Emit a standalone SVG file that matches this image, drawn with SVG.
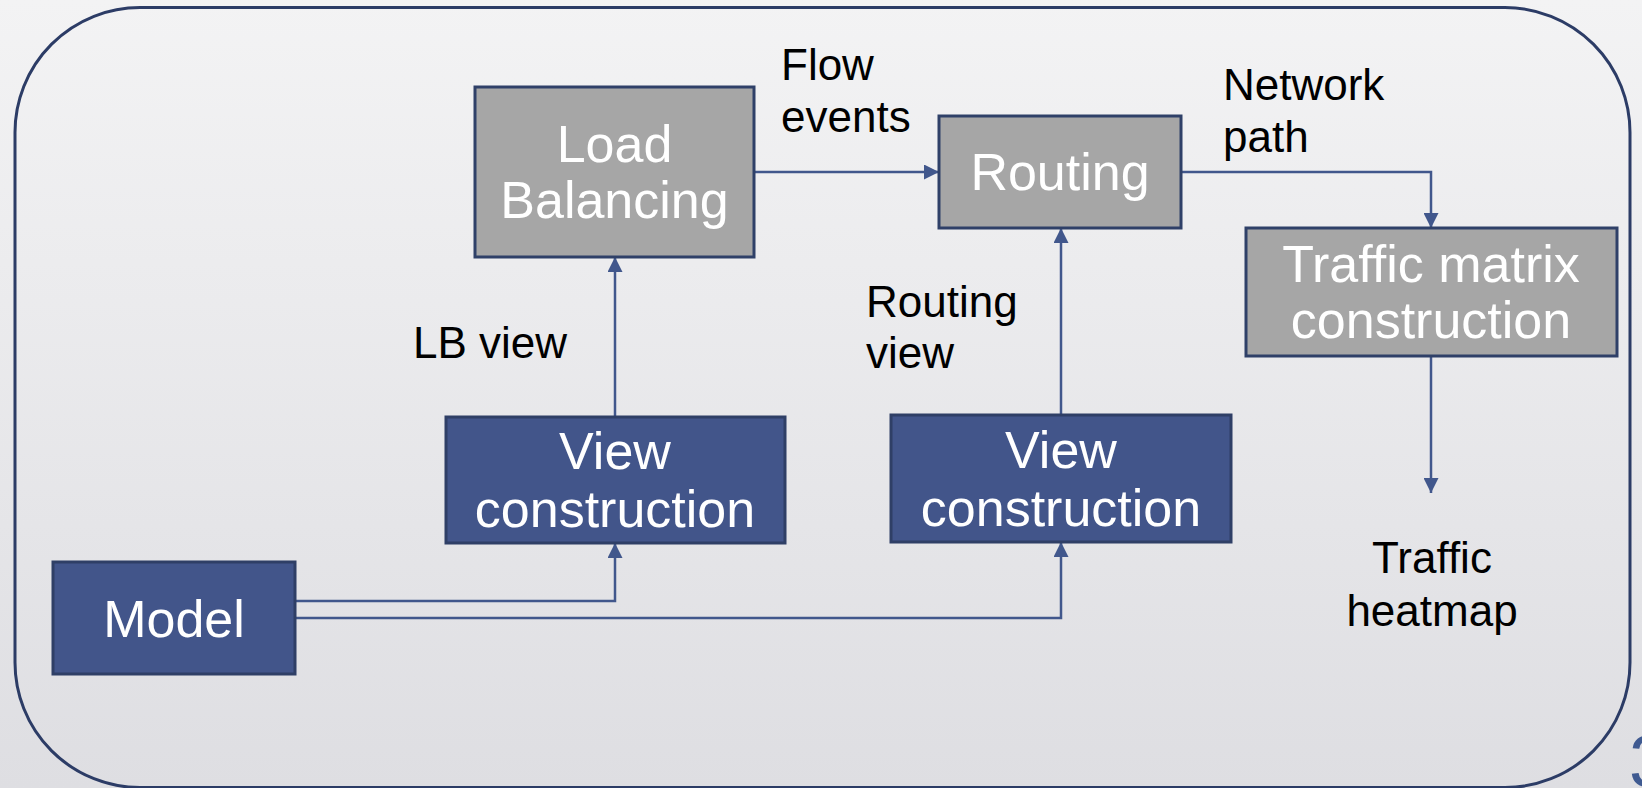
<svg xmlns="http://www.w3.org/2000/svg" width="1642" height="788" viewBox="0 0 1642 788">
  <defs>
    <linearGradient id="bg" x1="0" y1="0" x2="0" y2="1">
      <stop offset="0" stop-color="#f3f3f4"/>
      <stop offset="1" stop-color="#dedee2"/>
    </linearGradient>
    <marker id="arrow" viewBox="0 0 15 15" refX="15" refY="7.5" markerWidth="15" markerHeight="15" orient="auto" markerUnits="userSpaceOnUse">
      <path d="M0,0 L15,7.5 L0,15 z" fill="#41578c"/>
    </marker>
  </defs>
  <style>
    .frame { fill: none; stroke: #2c3c66; stroke-width: 3; }
    .proc { fill: #a6a6a6; stroke: #2f4068; stroke-width: 3; }
    .data { fill: #42558a; stroke: #2f3f66; stroke-width: 3; }
    .node-text { font-family: "Liberation Sans", Arial, sans-serif; font-size: 52px; fill: #ffffff; text-anchor: middle; }
    .label { font-family: "Liberation Sans", Arial, sans-serif; font-size: 44px; fill: #000000; }
    .conn { fill: none; stroke: #41578c; stroke-width: 2.5; marker-end: url(#arrow); }
  </style>

  <rect x="0" y="0" width="1642" height="788" fill="url(#bg)"/>
  <rect class="frame" x="15" y="7.5" width="1615" height="780" rx="125" ry="125"/>

  <!-- connectors -->
  <g id="connectors">
    <path class="conn" d="M754,172 H939"/>
    <path class="conn" d="M1181,172 H1431 V228"/>
    <path class="conn" d="M1431,356 V493"/>
    <path class="conn" d="M615,417 V257"/>
    <path class="conn" d="M1061,415 V228"/>
    <path class="conn" d="M295,601 H615 V543"/>
    <path class="conn" d="M295,618 H1061 V542"/>
  </g>

  <!-- nodes -->
  <g id="load-balancing">
    <rect class="proc" x="475" y="87" width="279" height="170"/>
    <text class="node-text" x="614.5" y="162">Load</text>
    <text class="node-text" x="614.5" y="218">Balancing</text>
  </g>
  <g id="routing">
    <rect class="proc" x="939" y="116" width="242" height="112"/>
    <text class="node-text" x="1060" y="190">Routing</text>
  </g>
  <g id="traffic-matrix">
    <rect class="proc" x="1246" y="228" width="371" height="128"/>
    <text class="node-text" x="1431" y="282">Traffic matrix</text>
    <text class="node-text" x="1431" y="338">construction</text>
  </g>
  <g id="lb-view-construction">
    <rect class="data" x="446" y="417" width="339" height="126"/>
    <text class="node-text" x="615" y="469">View</text>
    <text class="node-text" x="615" y="527">construction</text>
  </g>
  <g id="routing-view-construction">
    <rect class="data" x="891" y="415" width="340" height="127"/>
    <text class="node-text" x="1061" y="468">View</text>
    <text class="node-text" x="1061" y="526">construction</text>
  </g>
  <g id="model">
    <rect class="data" x="53" y="562" width="242" height="112"/>
    <text class="node-text" x="174" y="637">Model</text>
  </g>

  <!-- edge labels -->
  <g id="labels">
    <text class="label" x="781" y="80">Flow</text>
    <text class="label" x="781" y="132">events</text>
    <text class="label" x="1223" y="100">Network</text>
    <text class="label" x="1223" y="152">path</text>
    <text class="label" x="413" y="358">LB view</text>
    <text class="label" x="866" y="317">Routing</text>
    <text class="label" x="866" y="368">view</text>
    <g id="traffic-heatmap">
      <text class="label" x="1432" y="573" text-anchor="middle">Traffic</text>
      <text class="label" x="1432" y="626" text-anchor="middle">heatmap</text>
    </g>
  </g>

  <!-- page number, running off the right edge -->
  <text x="1629" y="787" font-family="Liberation Sans, Arial, sans-serif" font-size="74" fill="#3f5a91">3</text>
</svg>
